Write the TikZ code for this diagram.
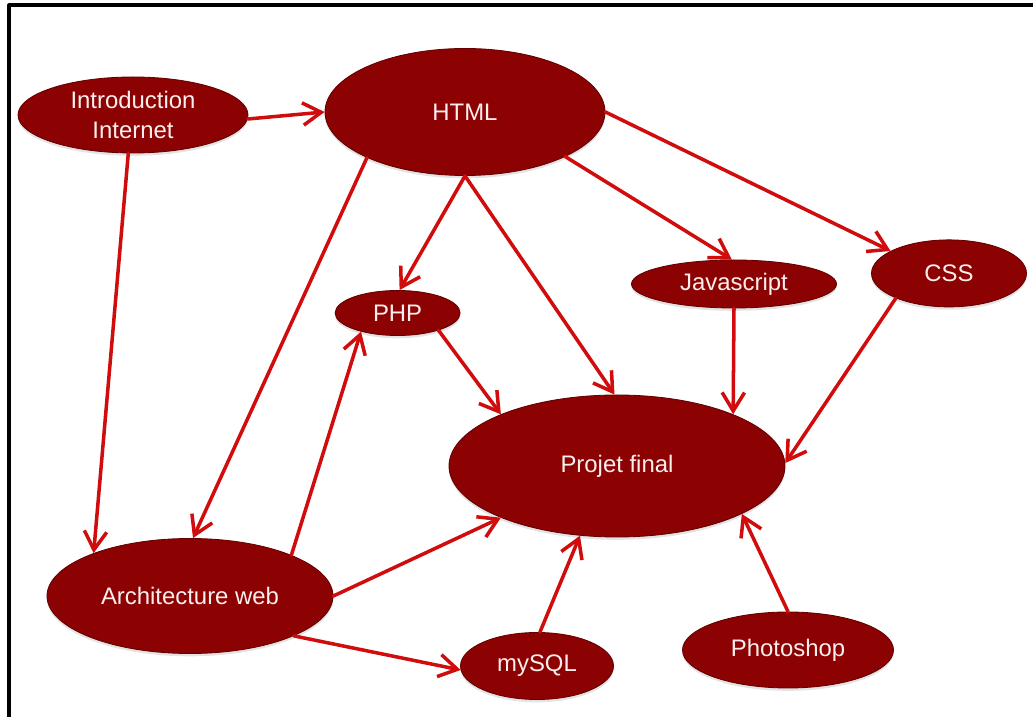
\documentclass[tikz,border=0pt]{standalone}
\usepackage{fontspec}
\setmainfont{Liberation Sans}
\usetikzlibrary{arrows.meta,shapes.geometric,shadows}
\definecolor{coursered}{RGB}{140,2,2}
\definecolor{courseedge}{RGB}{100,0,0}
\definecolor{linkred}{RGB}{208,12,12}
\definecolor{labelwhite}{RGB}{252,238,238}

\begin{document}
\begin{tikzpicture}[line join=round,
  topic/.style={ellipse,fill=coursered,draw=courseedge,line width=.6pt,
   text=labelwhite,inner sep=0pt,align=center,
   font=\fontsize{17}{21}\selectfont,
   drop shadow={opacity=.22,shadow xshift=0pt,shadow yshift=-2pt}},
  link/.style={linkred,line width=2.5pt,line cap=round,
   -{Straight Barb[length=4.6mm,width=5.6mm]}}]
 \useasboundingbox (0,0) rectangle (25.825,17.925);
 \draw[line width=2.2pt] (.225,0) -- (.225,17.8) -- (25.825,17.8);

 \node[topic,minimum width=5.75cm,minimum height=1.9cm] (intro)
  at (3.325,15.05) {Introduction\\Internet};
 \node[topic,minimum width=7cm,minimum height=3.175cm] (html)
  at (11.625,15.125) {HTML};
 \node[topic,minimum width=3.125cm,minimum height=1.125cm] (php)
  at (9.94,10.1) {PHP};
 \node[topic,minimum width=5.125cm,minimum height=1.2cm] (js)
  at (18.35,10.825) {Javascript};
 \node[topic,minimum width=3.875cm,minimum height=1.675cm] (css)
  at (23.725,11.09) {CSS};
 \node[topic,minimum width=8.4cm,minimum height=3.55cm] (final)
  at (15.425,6.275) {Projet final};
 \node[topic,minimum width=7.15cm,minimum height=2.875cm] (archi)
  at (4.75,3.025) {Architecture web};
 \node[topic,minimum width=3.825cm,minimum height=1.675cm] (mysql)
  at (13.425,1.275) {mySQL};
 \node[topic,minimum width=5.275cm,minimum height=1.9cm] (photo)
  at (19.7,1.675) {Photoshop};

 \draw[link] (intro.-2) -- (html.180);
 \draw[link] (intro.-97) -- (archi.156);
 \draw[link] (html.-155) -- (archi.87);
 \draw[link] (html.-90) -- (php.85);
 \draw[link] (html.-90) -- (final.92);
 \draw[link] (html.-24) -- (js.95);
 \draw[link] (html.0) -- (css.159);
 \draw[link] (php.-23) -- (final.156);
 \draw[link] (js.-90) -- (final.24);
 \draw[link] (css.-155) -- (final.1);
 \draw[link] (archi.22) -- (php.-153);
 \draw[link] (archi.0) -- (final.-156);
 \draw[link] (archi.-21) -- (mysql.-177);
 \draw[link] (mysql.85) -- (final.-118);
 \draw[link] (photo.90) -- (final.-21);
\end{tikzpicture}
\end{document}
